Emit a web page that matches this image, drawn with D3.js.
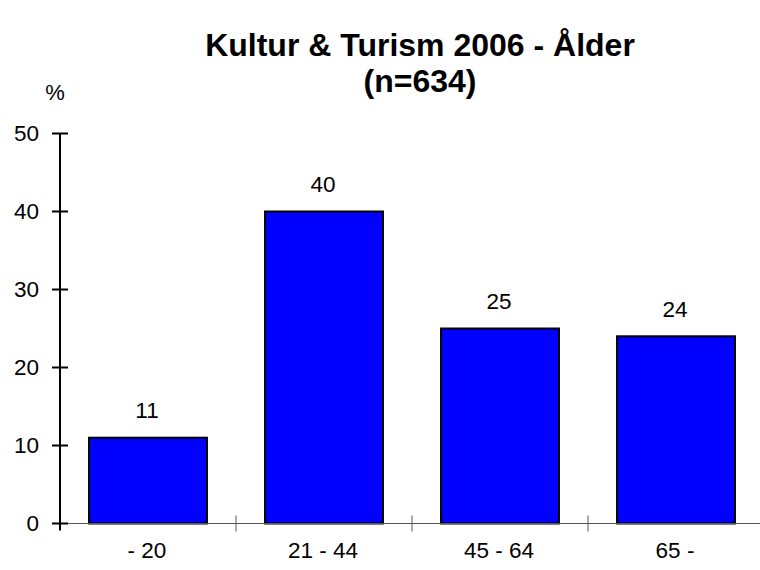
<!DOCTYPE html>
<html>
<head>
<meta charset="utf-8">
<script src="https://cdn.jsdelivr.net/npm/d3@7"></script>
<style>
  body { margin: 0; background: #fff; }
  text { font-family: "Liberation Sans", Arial, sans-serif; fill: #000; }
</style>
</head>
<body>
<div id="chart"></div>
<script>
var width = 760,
    height = 570

// data
var categories = ['- 20', '21 - 44', '45 - 64', '65 -']
var values = [11, 40, 25, 24]
var yTicks = [0, 10, 20, 30, 40, 50]
var titleLines = ['Kultur & Turism 2006 - Ålder', '(n=634)']

var plotLeft = 60, plotRight = 764, plotTop = 133.5, plotBottom = 523.5

var svg = d3.select('#chart')
  .append('svg')
  .attr('width', width)
  .attr('height', height)

var x = d3.scaleBand()
  .domain(categories)
  .range([plotLeft, plotRight])
  .paddingInner(0.33)
  .paddingOuter(0.165)

// band edges, used for the category ticks
var xTickPos = d3.scaleBand().domain(categories).range([plotLeft, plotRight])

var y = d3.scaleLinear()
  .domain([0, 50])
  .range([plotBottom, plotTop])

// title
svg.append('g').selectAll('text')
  .data(titleLines)
  .join('text')
    .attr('x', 420)
    .attr('y', function(d, i) { return 56 + i * 36 })
    .attr('text-anchor', 'middle')
    .style('font-size', '32px')
    .style('font-weight', 'bold')
    .text(function(d) { return d })

svg.append('text')
  .attr('x', 55)
  .attr('y', 100)
  .attr('text-anchor', 'middle')
  .style('font-size', '22px')
  .text('%')

// bars
svg.append('g').selectAll('rect')
  .data(values)
  .join('rect')
    .attr('x', function(d, i) { return x(categories[i]) })
    .attr('y', function(d) { return y(d) })
    .attr('width', x.bandwidth())
    .attr('height', function(d) { return plotBottom - y(d) })
    .attr('fill', '#0000ff')
    .attr('stroke', '#000')
    .attr('stroke-width', 2)

// value labels
svg.append('g').selectAll('text')
  .data(values)
  .join('text')
    .attr('x', function(d, i) { return x(categories[i]) + x.bandwidth() / 2 - 1 })
    .attr('y', function(d) { return y(d) - 19.5 })
    .attr('text-anchor', 'middle')
    .style('font-size', '22.5px')
    .text(function(d) { return d })

// x axis
var xAxis = svg.append('g')
xAxis.append('line')
  .attr('x1', 52).attr('x2', width)
  .attr('y1', plotBottom).attr('y2', plotBottom)
  .attr('stroke', '#555').attr('stroke-width', 1)
xAxis.selectAll('.xt')
  .data(categories.slice(1))
  .join('line')
    .attr('class', 'xt')
    .attr('x1', function(d) { return xTickPos(d) })
    .attr('x2', function(d) { return xTickPos(d) })
    .attr('y1', plotBottom - 8).attr('y2', plotBottom + 8)
    .attr('stroke', '#555').attr('stroke-width', 1)
xAxis.selectAll('text')
  .data(categories)
  .join('text')
    .attr('x', function(d) { return xTickPos(d) + xTickPos.bandwidth() / 2 - 1 })
    .attr('y', 558)
    .attr('text-anchor', 'middle')
    .style('font-size', '22.5px')
    .text(function(d) { return d })

// y axis
var yAxis = svg.append('g')
yAxis.append('line')
  .attr('x1', plotLeft).attr('x2', plotLeft)
  .attr('y1', plotTop).attr('y2', plotBottom + 7)
  .attr('stroke', '#000').attr('stroke-width', 2)
yAxis.selectAll('.yt')
  .data(yTicks)
  .join('line')
    .attr('class', 'yt')
    .attr('x1', 52).attr('x2', 68)
    .attr('y1', function(d) { return y(d) })
    .attr('y2', function(d) { return y(d) })
    .attr('stroke', '#000').attr('stroke-width', 2)
yAxis.selectAll('text')
  .data(yTicks)
  .join('text')
    .attr('x', 39)
    .attr('y', function(d) { return y(d) + 7 })
    .attr('text-anchor', 'end')
    .style('font-size', '22.5px')
    .text(function(d) { return d })
</script>
</body>
</html>
